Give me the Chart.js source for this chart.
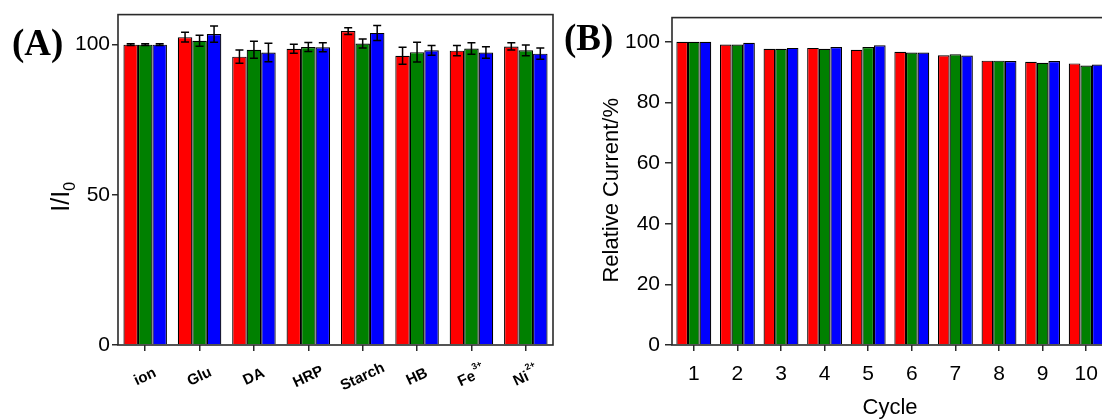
<!DOCTYPE html>
<html>
<head>
<meta charset="utf-8">
<script src="https://cdn.jsdelivr.net/npm/chart.js@4.4.1/dist/chart.umd.min.js"></script>
<style>
  html, body { margin: 0; padding: 0; background: #fff; overflow: hidden; }
  #wrap { position: relative; width: 1102px; height: 419px; overflow: hidden; }
  .panel { position: absolute; top: 0; height: 419px; }
  #panelA { left: 0; width: 560px; }
  #panelB { left: 560px; width: 560px; }
  .tag {
    position: absolute;
    font-family: "Liberation Serif", "Times New Roman", serif;
    font-weight: bold;
    font-size: 37px;
    line-height: 1;
  }
</style>
</head>
<body>
<div id="wrap">
  <div class="panel" id="panelA"><canvas id="chartA"></canvas></div>
  <div class="panel" id="panelB"><canvas id="chartB"></canvas></div>
  <div class="tag" style="left:12px; top:24px;">(A)</div>
  <div class="tag" style="left:564px; top:19px;">(B)</div>
</div>

<script>
// =====================
// DATA
// =====================
// (A) selectivity: I/I0 with interfering species
const species = ["ion", "Glu", "DA", "HRP", "Starch", "HB", "Fe", "Ni"];
const speciesSup = ["", "", "", "", "", "", "3+", "2+"];
const ratioRed = [100, 102.5, 96.0, 98.6, 104.5, 96.3, 98.0, 99.4];
const ratioGreen = [100, 101.3, 98.3, 99.2, 100.4, 97.5, 98.7, 98.1];
const ratioBlue = [100, 103.5, 97.4, 99.1, 103.9, 98.1, 97.4, 97.0];
const errRed = [0.3, 1.6, 2.2, 1.5, 1.1, 2.8, 1.7, 1.2];
const errGreen = [0.3, 1.8, 2.8, 1.5, 1.5, 3.3, 1.9, 1.8];
const errBlue = [0.3, 2.7, 3.1, 1.5, 2.5, 1.6, 1.9, 1.9];
const ratioTicks = [0, 50, 100];

// (B) stability over cycles
const cycles = ["1", "2", "3", "4", "5", "6", "7", "8", "9", "10"];
const currentRed = [100, 99.1, 97.7, 98.0, 97.4, 96.7, 95.6, 93.8, 93.4, 92.9];
const currentGreen = [100, 99.1, 97.7, 97.7, 98.3, 96.5, 95.9, 93.8, 93.1, 92.2];
const currentBlue = [100, 99.7, 98.0, 98.3, 98.9, 96.5, 95.5, 93.7, 93.7, 92.5];
const currentTicks = [0, 20, 40, 60, 80, 100];

const RED = "#ff0000", GREEN = "#008000", BLUE = "#0000ff";
const SANS = "'Liberation Sans', Arial, sans-serif";

// =====================
// PLUGINS
// =====================
// box around the plot area
const frame = {
  id: "frame",
  afterDraw(chart) {
    const { ctx, chartArea: a } = chart;
    ctx.save();
    ctx.strokeStyle = "#2a2a2a";
    ctx.lineWidth = 1.6;
    ctx.strokeRect(a.left, a.top, a.right - a.left, a.bottom - a.top);
    ctx.restore();
  }
};

// error bars, read from dataset.errors
const errorBars = {
  id: "errorBars",
  afterDatasetsDraw(chart) {
    const { ctx } = chart;
    const y = chart.scales.y;
    ctx.save();
    ctx.strokeStyle = "#000";
    ctx.lineWidth = 1.5;
    chart.data.datasets.forEach((ds, i) => {
      if (!ds.errors) return;
      chart.getDatasetMeta(i).data.forEach((bar, j) => {
        const v = ds.data[j], e = ds.errors[j];
        const top = y.getPixelForValue(v + e);
        const bot = y.getPixelForValue(v - e);
        const cap = 4;
        ctx.beginPath();
        ctx.moveTo(bar.x, top); ctx.lineTo(bar.x, bot);
        ctx.moveTo(bar.x - cap, top); ctx.lineTo(bar.x + cap, top);
        ctx.moveTo(bar.x - cap, bot); ctx.lineTo(bar.x + cap, bot);
        ctx.stroke();
      });
    });
    ctx.restore();
  }
};

// rotated y title with an optional subscript, centred at (cx, cy)
function sideTitle(ctx, cx, cy, main, sub, size) {
  ctx.save();
  ctx.translate(cx, cy);
  ctx.rotate(-Math.PI / 2);
  ctx.fillStyle = "#000";
  ctx.textBaseline = "middle";
  ctx.textAlign = "left";
  ctx.font = size + "px " + SANS;
  const wMain = ctx.measureText(main).width;
  const subSize = Math.round(size * 0.62);
  ctx.font = subSize + "px " + SANS;
  const wSub = sub ? ctx.measureText(sub).width : 0;
  const s = -(wMain + wSub) / 2;
  ctx.font = size + "px " + SANS;
  ctx.fillText(main, s, 0);
  if (sub) {
    ctx.font = subSize + "px " + SANS;
    ctx.fillText(sub, s + wMain, size * 0.33);
  }
  ctx.restore();
}

// slanted category names with superscript charges, plus the I/I0 title
const panelALabels = {
  id: "panelALabels",
  afterDraw(chart) {
    const { ctx } = chart;
    const x = chart.scales.x;
    ctx.save();
    ctx.fillStyle = "#000";
    ctx.textBaseline = "middle";
    species.forEach((name, i) => {
      const px = x.getPixelForTick(i);
      const py = x.top + 32;
      ctx.font = "bold 15px " + SANS;
      const w1 = ctx.measureText(name).width;
      ctx.font = "bold 9px " + SANS;
      const w2 = speciesSup[i] ? ctx.measureText(speciesSup[i]).width : 0;
      ctx.save();
      ctx.translate(px, py);
      ctx.rotate(-25 * Math.PI / 180);
      const start = -(w1 + w2) / 2;
      ctx.textAlign = "left";
      ctx.font = "bold 15px " + SANS;
      ctx.fillText(name, start, 0);
      if (speciesSup[i]) {
        ctx.font = "bold 9px " + SANS;
        ctx.fillText(speciesSup[i], start + w1 + 1, -8);
      }
      ctx.restore();
    });
    ctx.restore();

    const a = chart.chartArea;
    sideTitle(ctx, 62, (a.top + a.bottom) / 2 + 17, "I/I", "0", 25);
  }
};

// y title of panel B, drawn a little below the plot centre
const panelBTitle = {
  id: "panelBTitle",
  afterDraw(chart) {
    const a = chart.chartArea;
    sideTitle(chart.ctx, 52, (a.top + a.bottom) / 2 + 9, "Relative Current/%", "", 22);
  }
};

function barSet(label, data, color, errors) {
  return {
    label: label,
    data: data,
    errors: errors,
    backgroundColor: color,
    borderColor: "#000",
    borderWidth: 1.2,
    categoryPercentage: 0.8,
    barPercentage: 1.0
  };
}

// =====================
// CHART A
// =====================
new Chart(document.getElementById("chartA"), {
  type: "bar",
  data: {
    labels: species,
    datasets: [
      barSet("1", ratioRed, RED, errRed),
      barSet("2", ratioGreen, GREEN, errGreen),
      barSet("3", ratioBlue, BLUE, errBlue)
    ]
  },
  options: {
    responsive: true,
    maintainAspectRatio: false,
    animation: false,
    layout: { padding: { top: 13, right: 7, left: 0, bottom: 0 } },
    plugins: { legend: { display: false }, tooltip: { enabled: false } },
    scales: {
      x: {
        offset: true,
        grid: { display: true, drawOnChartArea: false, offset: false, tickLength: 6, color: "#2a2a2a", lineWidth: 1.5 },
        border: { display: false },
        ticks: { display: false },
        afterFit(scale) { scale.height = 74; }
      },
      y: {
        min: 0,
        max: 110,
        afterBuildTicks(scale) { scale.ticks = ratioTicks.map(v => ({ value: v })); },
        grid: { drawOnChartArea: false, tickLength: 6, color: "#2a2a2a", lineWidth: 1.5 },
        border: { display: false },
        ticks: { color: "#000", padding: 2, font: { family: SANS, size: 21 } },
        afterFit(scale) { scale.width = 118; }
      }
    }
  },
  plugins: [frame, errorBars, panelALabels]
});

// =====================
// CHART B
// =====================
new Chart(document.getElementById("chartB"), {
  type: "bar",
  data: {
    labels: cycles,
    datasets: [
      barSet("1", currentRed, RED),
      barSet("2", currentGreen, GREEN),
      barSet("3", currentBlue, BLUE)
    ]
  },
  options: {
    responsive: true,
    maintainAspectRatio: false,
    animation: false,
    layout: { padding: { top: 13, right: 12, left: 0, bottom: 0 } },
    plugins: { legend: { display: false }, tooltip: { enabled: false } },
    scales: {
      x: {
        offset: true,
        grid: { display: true, drawOnChartArea: false, offset: false, tickLength: 6, color: "#2a2a2a", lineWidth: 1.5 },
        border: { display: false },
        ticks: { color: "#000", padding: 11, maxRotation: 0, font: { family: SANS, size: 21 } },
        title: { display: true, text: "Cycle", color: "#000", padding: { top: 0, bottom: -2 }, font: { family: SANS, size: 22 } },
        afterFit(scale) { scale.height = 74; }
      },
      y: {
        min: 0,
        max: 108,
        afterBuildTicks(scale) { scale.ticks = currentTicks.map(v => ({ value: v })); },
        grid: { drawOnChartArea: false, tickLength: 7, color: "#2a2a2a", lineWidth: 1.5 },
        border: { display: false },
        ticks: { color: "#000", padding: 5, font: { family: SANS, size: 21 } },
        afterFit(scale) { scale.width = 112; }
      }
    }
  },
  plugins: [frame, panelBTitle]
});
</script>
</body>
</html>
